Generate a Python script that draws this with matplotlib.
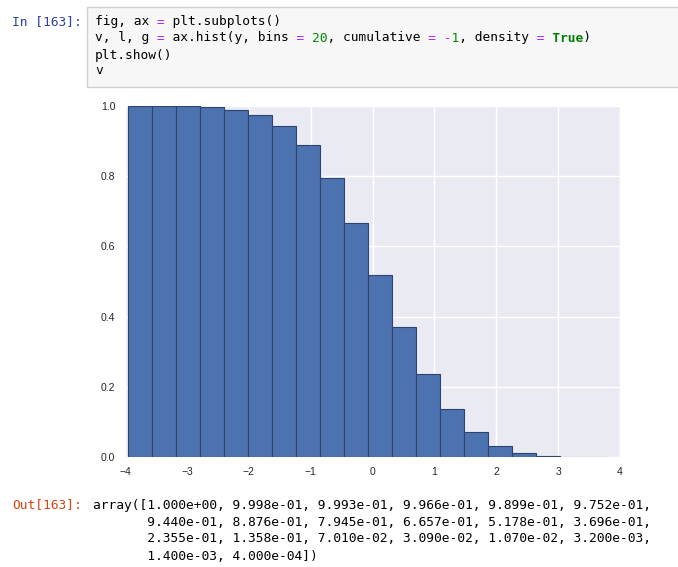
import re
import numpy as np
import matplotlib
matplotlib.use('Agg')
import matplotlib.pyplot as plt
from matplotlib.patches import Rectangle

#### Data ####
# reverse-cumulative density of each bin (the "v" output)
v = [1.000e+00, 9.998e-01, 9.993e-01, 9.966e-01, 9.899e-01, 9.752e-01,
     9.440e-01, 8.876e-01, 7.945e-01, 6.657e-01, 5.178e-01, 3.696e-01,
     2.355e-01, 1.358e-01, 7.010e-02, 3.090e-02, 1.070e-02, 3.200e-03,
     1.400e-03, 4.000e-04]
# bin edges
bin_edges = [-3.945, -3.558, -3.170, -2.783, -2.395, -2.008, -1.621, -1.233,
             -0.846, -0.458, -0.071, 0.316, 0.704, 1.091, 1.479, 1.866,
             2.253, 2.641, 3.028, 3.416, 3.803]
x_ticks = [-4, -3, -2, -1, 0, 1, 2, 3, 4]
y_ticks = [0.0, 0.2, 0.4, 0.6, 0.8, 1.0]

code_lines = ["fig, ax = plt.subplots()",
              "v, l, g = ax.hist(y, bins = 20, cumulative = -1, density = True)",
              "plt.show()",
              "v"]
prompt_in = "In [163]:"
prompt_out = "Out[163]:"

#### Figure ####
W, H = 678, 567
fig = plt.figure(figsize=(W / 100, H / 100), dpi=100)
fig.patch.set_facecolor('white')


def fx(x):
    return x / W


def fy(y):
    return 1 - y / H


mono = 'DejaVu Sans Mono'
fs = 9.25

# code cell box
fig.patches.append(Rectangle((fx(87), fy(87)), fx(700) - fx(87), fy(7) - fy(87),
                             transform=fig.transFigure, facecolor='#F7F7F7',
                             edgecolor='#CFCFCF', linewidth=1))
fig.text(fx(12), fy(22), prompt_in, family=mono, fontsize=fs, color='#303F9F', va='center')


# simple syntax colouring: split each line into per-colour strings padded with spaces
def split_colours(line):
    cls = ['k'] * len(line)
    for m in re.finditer(r'\bTrue\b', line):
        for i in range(m.start(), m.end()):
            cls[i] = 'kw'
    for m in re.finditer(r'\b\d+\b', line):
        for i in range(m.start(), m.end()):
            cls[i] = 'num'
    for i, c in enumerate(line):
        if c in '=-':
            cls[i] = 'op'
    out = {}
    for key in ['k', 'kw', 'num', 'op']:
        s = ''.join(c if cls[i] == key else ' ' for i, c in enumerate(line))
        if s.strip():
            out[key] = s
    return out


styles = {'k': ('#000000', 'normal'), 'kw': ('#008000', 'bold'),
          'num': ('#008800', 'normal'), 'op': ('#AA22FF', 'normal')}
for n, line in enumerate(code_lines):
    y = [22, 38, 55, 71][n]
    for key, s in split_colours(line).items():
        col, wt = styles[key]
        fig.text(fx(95), fy(y), s, family=mono, fontsize=fs, color=col,
                 fontweight=wt, va='center')

# output text
fig.text(fx(12), fy(505), prompt_out, family=mono, fontsize=fs, color='#D84315', va='center')
vals = ['%.3e' % x for x in v]
rows = [', '.join(vals[i:i + 6]) for i in range(0, len(vals), 6)]
out_lines = ['array([' + rows[0] + ','] + \
            ['       ' + r + ',' for r in rows[1:-1]] + \
            ['       ' + rows[-1] + '])']
for n, line in enumerate(out_lines):
    fig.text(fx(93), fy(505 + 17 * n), line, family=mono, fontsize=fs,
             color='#000000', va='center')

#### Histogram ####
ax = fig.add_axes([fx(125), fy(457), fx(620) - fx(125), fy(106) - fy(457)])
ax.set_facecolor('#EAEAF2')
widths = np.diff(bin_edges)
ax.bar(bin_edges[:-1], v, width=widths, align='edge', color='#4C72B0',
       edgecolor='#2E4470', linewidth=0.8, zorder=2)
ax.set_xlim(-4, 4)
ax.set_ylim(0, 1.0)
ax.set_xticks(x_ticks)
ax.set_yticks(y_ticks)
ax.set_xticklabels(['\u2212%d' % -t if t < 0 else '%d' % t for t in x_ticks])
ax.set_yticklabels(['%.1f' % t for t in y_ticks])
ax.grid(True, color='white', linewidth=1, zorder=1)
ax.set_axisbelow(True)
for s in ax.spines.values():
    s.set_visible(False)
ax.tick_params(length=0, labelsize=7.5, labelcolor='#262626', pad=7)
for lab in ax.get_xticklabels() + ax.get_yticklabels():
    lab.set_family('Liberation Sans')

plt.savefig('out.png', dpi=100)
